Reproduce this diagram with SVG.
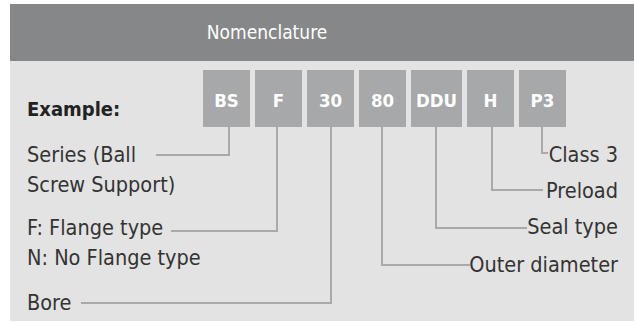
<svg xmlns="http://www.w3.org/2000/svg" width="634" height="322" viewBox="0 0 634 322">
<style>
.hdr{fill:#868788}
.body{fill:#e3e3e3}
.box{fill:#a7a8aa}
.f{font-family:"DejaVu Sans Condensed","DejaVu Sans","Liberation Sans",sans-serif;font-stretch:condensed}
.bt{font-size:18.5px;font-weight:bold;fill:#ffffff;text-anchor:middle}
.lbl{font-size:21.5px;fill:#333333}
.r{text-anchor:end}
.conn{fill:none;stroke:#a8a9ab;stroke-width:2}
</style>
<rect class="hdr" x="10" y="4" width="624" height="57"/>
<rect class="body" x="10" y="61" width="624" height="260"/>
<text class="f" x="267" y="39" font-size="19" fill="#ffffff" text-anchor="middle">Nomenclature</text>
<text class="f" x="27" y="116" font-size="20" font-weight="bold" fill="#222222">Example:</text>
<g id="n-bs"><rect class="box" x="203" y="70" width="47" height="57"/><text class="f bt" x="226.5" y="107">BS</text></g>
<g id="n-f"><rect class="box" x="255" y="70" width="47" height="57"/><text class="f bt" x="278.5" y="107">F</text></g>
<g id="n-30"><rect class="box" x="307" y="70" width="47" height="57"/><text class="f bt" x="330.5" y="107">30</text></g>
<g id="n-80"><rect class="box" x="359" y="70" width="47" height="57"/><text class="f bt" x="382.5" y="107">80</text></g>
<g id="n-ddu"><rect class="box" x="411" y="70" width="51" height="57"/><text class="f bt" x="436.5" y="107">DDU</text></g>
<g id="n-h"><rect class="box" x="467" y="70" width="47" height="57"/><text class="f bt" x="490.5" y="107">H</text></g>
<g id="n-p3"><rect class="box" x="519" y="70" width="47" height="57"/><text class="f bt" x="542.5" y="107">P3</text></g>
<g id="l-series"><text class="f lbl" x="27" y="162">Series (Ball</text><text class="f lbl" x="27" y="192">Screw Support)</text></g>
<g id="l-flange"><text class="f lbl" x="27" y="235">F: Flange type</text><text class="f lbl" x="27" y="265">N: No Flange type</text></g>
<g id="l-bore"><text class="f lbl" x="27" y="310">Bore</text></g>
<g id="l-class"><text class="f lbl r" x="618" y="162">Class 3</text></g>
<g id="l-preload"><text class="f lbl r" x="618" y="198">Preload</text></g>
<g id="l-seal"><text class="f lbl r" x="618" y="234">Seal type</text></g>
<g id="l-outer"><text class="f lbl r" x="618" y="272">Outer diameter</text></g>
<g id="connectors">
<polyline class="conn" points="229,127 229,155 156,155"/>
<polyline class="conn" points="277,127 277,231 171,231"/>
<polyline class="conn" points="331,127 331,303 81,303"/>
<polyline class="conn" points="382,127 382,265 470,265"/>
<polyline class="conn" points="436,127 436,228 527,228"/>
<polyline class="conn" points="492,127 492,190 543,190"/>
<polyline class="conn" points="542,127 542,153 548,153"/>
</g>
</svg>
